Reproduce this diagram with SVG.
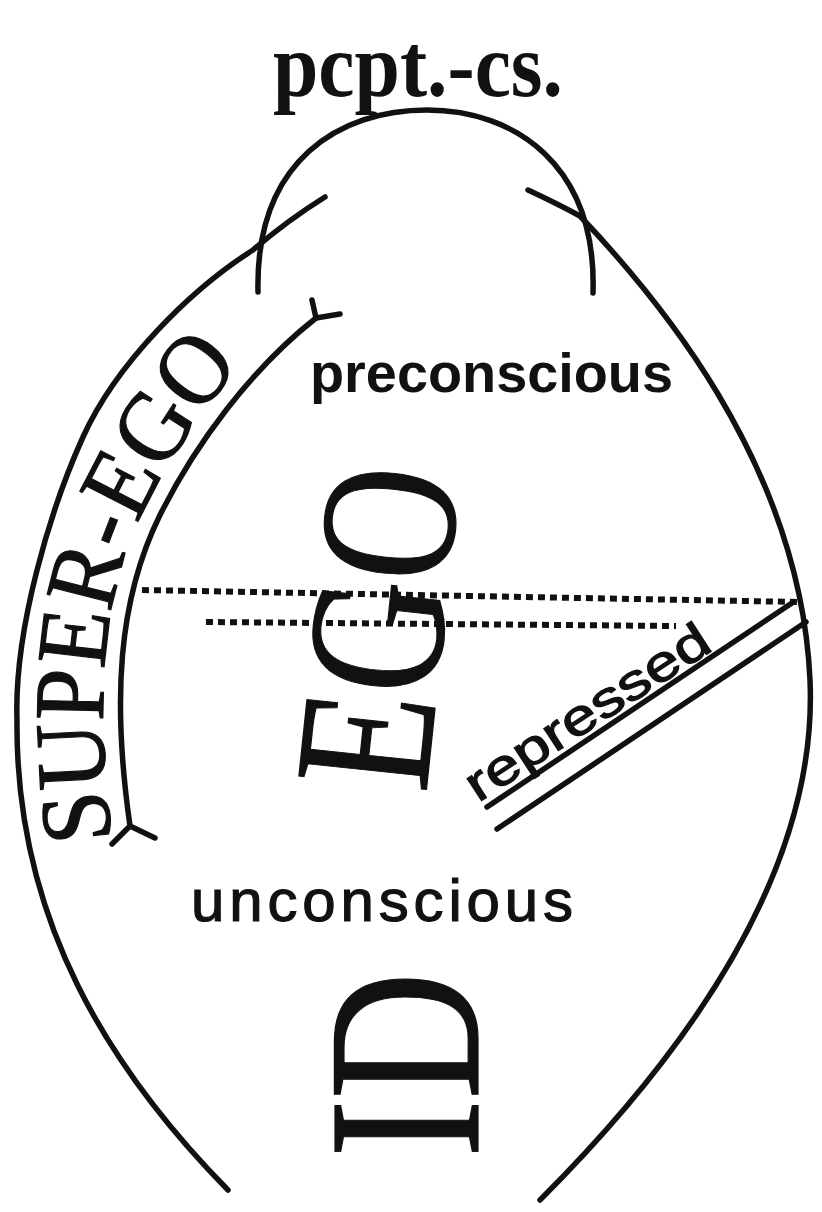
<svg xmlns="http://www.w3.org/2000/svg" width="822" height="1212" viewBox="0 0 822 1212">
<style>
.ln{fill:none;stroke:#111;stroke-width:5.5;stroke-linecap:round;stroke-linejoin:round}
.dot{fill:none;stroke:#111;stroke-width:6;stroke-dasharray:7 5}
.serif{font-family:"Liberation Serif","Times New Roman",serif;fill:#111}
.sans{font-family:"Liberation Sans",Arial,sans-serif;fill:#111}
.thick{stroke:#111;stroke-width:1.2}
</style>
<defs>
<path id="sePath" d="M112,840 C95,700 101,595 146,506 C181,436 236,360 308,298"/>
</defs>
<rect width="822" height="1212" fill="#fff"/>
<g id="outline">
<path class="ln" d="M228,1190 C110,1070 15,920 17,720 C14,630 50,510 83,437 C116,364 190,290 253,250 Q288,220 325,197"/>
<path class="ln" d="M528,190 Q556,203 580,216 C650,290 800,460 810,680 C818,860 700,1040 540,1200"/>
</g>
<g id="pcpt-cs">
<path class="ln" d="M258,292 C255,160 340,110 427,110 C515,110 597,165 593,293"/>
<text class="serif" x="273" y="96" font-size="92" font-weight="bold" textLength="290" lengthAdjust="spacingAndGlyphs">pcpt.-cs.</text>
</g>
<g id="super-ego">
<path class="ln" d="M130,826 C112,700 118,600 160,515 C195,445 250,370 316,318"/>
<path class="ln" d="M112,844 L130,826 L155,838"/>
<path class="ln" d="M312,300 L316,318 L340,314"/>
<text class="serif thick" font-size="100"><textPath href="#sePath" textLength="512" lengthAdjust="spacingAndGlyphs">SUPER-EGO</textPath></text>
</g>
<g id="preconscious">
<text class="sans" x="310" y="392" font-size="56" font-weight="bold" textLength="363" lengthAdjust="spacingAndGlyphs">preconscious</text>
</g>
<g id="ego">
<text class="serif thick" font-size="196" transform="translate(426,794) rotate(-84)" textLength="322" lengthAdjust="spacingAndGlyphs">EGO</text>
</g>
<g id="repressed">
<text class="sans thick" font-size="50" transform="translate(478,803) rotate(-33)" textLength="282" lengthAdjust="spacingAndGlyphs">repressed</text>
</g>
<g id="unconscious">
<text class="sans thick" x="191" y="921" font-size="60" textLength="382">unconscious</text>
</g>
<g id="id">
<text class="serif thick" font-size="219" transform="translate(478,1158) rotate(-90)" textLength="186" lengthAdjust="spacingAndGlyphs">ID</text>
</g>
<g id="connectors">
<line class="dot" x1="142" y1="590" x2="800" y2="602"/>
<line class="dot" x1="206" y1="622" x2="676" y2="626"/>
<line class="ln" x1="792" y1="603" x2="487" y2="807"/>
<line class="ln" x1="806" y1="622" x2="497" y2="829"/>
</g>
</svg>
